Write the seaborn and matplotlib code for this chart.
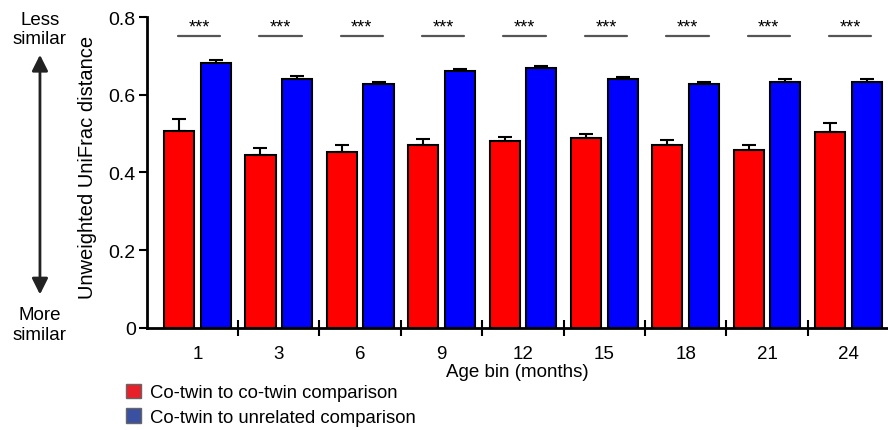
"""Unweighted UniFrac distance by age bin: co-twin vs unrelated comparisons."""

import matplotlib

matplotlib.use("Agg")
import matplotlib.pyplot as plt  # noqa: E402
import numpy as np  # noqa: E402
import pandas as pd  # noqa: E402
import seaborn as sns  # noqa: E402
from matplotlib.patches import Patch  # noqa: E402

AGE_BINS = ["1", "3", "6", "9", "12", "15", "18", "21", "24"]
COTWIN_MEAN = [0.506, 0.446, 0.454, 0.472, 0.482, 0.489, 0.472, 0.459, 0.503]
COTWIN_SEM = [0.032, 0.016, 0.016, 0.014, 0.010, 0.010, 0.012, 0.012, 0.024]
UNRELATED_MEAN = [0.682, 0.641, 0.628, 0.661, 0.669, 0.641, 0.628, 0.634, 0.634]
UNRELATED_SEM = [0.007, 0.007, 0.005, 0.006, 0.005, 0.004, 0.006, 0.006, 0.006]
SIGNIF = ["***"] * 9
GROUPS = ["Co-twin to co-twin comparison", "Co-twin to unrelated comparison"]

sns.set_style("ticks")
plt.rcParams["font.family"] = ["Liberation Sans", "DejaVu Sans"]
plt.rcParams["text.color"] = "black"
plt.rcParams["axes.labelcolor"] = "black"
plt.rcParams["xtick.color"] = "black"
plt.rcParams["ytick.color"] = "black"

df = pd.DataFrame(
    {
        "age": AGE_BINS * 2,
        "dist": COTWIN_MEAN + UNRELATED_MEAN,
        "sem": COTWIN_SEM + UNRELATED_SEM,
        "group": [GROUPS[0]] * len(AGE_BINS) + [GROUPS[1]] * len(AGE_BINS),
    }
)

fig = plt.figure(figsize=(8.88, 4.31), dpi=100)
ax = fig.add_axes([0.1655, 0.2367, 0.834, 0.7215])

sns.barplot(
    data=df,
    x="age",
    y="dist",
    hue="group",
    order=AGE_BINS,
    hue_order=GROUPS,
    palette=["#ff0000", "#0000ff"],
    saturation=1,
    errorbar=None,
    width=0.9,
    gap=0.18,
    edgecolor="black",
    linewidth=1.5,
    legend=False,
    ax=ax,
)

# one-sided error bars on top of each bar
bars = [p for p in ax.patches if p.get_height() > 0]
xs = [p.get_x() + p.get_width() / 2 for p in bars]
tops = [p.get_height() for p in bars]
errs = df["sem"].to_numpy()
ax.errorbar(
    xs,
    tops,
    yerr=[np.zeros_like(errs), errs],
    fmt="none",
    ecolor="black",
    elinewidth=1.5,
    capsize=5,
    capthick=1.5,
    zorder=5,
)

# significance markers
for i, s in enumerate(SIGNIF):
    ax.plot([i - 0.24, i + 0.28], [0.75, 0.75], color="#555555", lw=1.6)
    ax.text(i + 0.02, 0.775, s, ha="center", va="center", fontsize=13)

ax.set_ylim(0, 0.8)
ax.set_xlim(-0.62, 8.48)
ax.set_yticks([0, 0.2, 0.4, 0.6, 0.8])
ax.set_yticklabels(["0", "0.2", "0.4", "0.6", "0.8"])
ax.tick_params(axis="y", labelsize=14, width=1.5, length=6, pad=2)
ax.tick_params(axis="x", which="major", length=0, labelsize=13.5, pad=12)
ax.set_xticks(np.arange(len(AGE_BINS) - 1) + 0.5, minor=True)
ax.tick_params(axis="x", which="minor", direction="inout", length=12, width=1.5)
sns.despine(ax=ax)
for side in ("left", "bottom"):
    ax.spines[side].set_linewidth(2)
    ax.spines[side].set_color("black")

ax.set_xlabel("Age bin (months)", fontsize=13.5, labelpad=1)
ax.set_ylabel("Unweighted UniFrac distance", fontsize=14.5)
ax.yaxis.set_label_coords(-0.0675, 0.52)

# direction cue on the far left
fig.text(0.045, 0.93, "Less\nsimilar", ha="center", va="center", fontsize=13.5, linespacing=1.2)
fig.text(0.045, 0.245, "More\nsimilar", ha="center", va="center", fontsize=13.5, linespacing=1.2)
fig.add_artist(
    matplotlib.patches.FancyArrowPatch(
        (0.045, 0.877),
        (0.045, 0.308),
        transform=fig.transFigure,
        arrowstyle="<|-|>",
        mutation_scale=24,
        lw=2,
        color="#222222",
    )
)

handles = [
    Patch(facecolor="#e8202a", edgecolor="#666666", label=GROUPS[0]),
    Patch(facecolor="#3a50a0", edgecolor="#666666", label=GROUPS[1]),
]
fig.legend(
    handles=handles,
    loc="lower left",
    bbox_to_anchor=(0.132, -0.012),
    frameon=False,
    fontsize=13.3,
    borderpad=0,
    handlelength=0.8,
    handleheight=0.8,
    handletextpad=0.45,
    labelspacing=0.4,
)

fig.savefig("out.png", dpi=100)
